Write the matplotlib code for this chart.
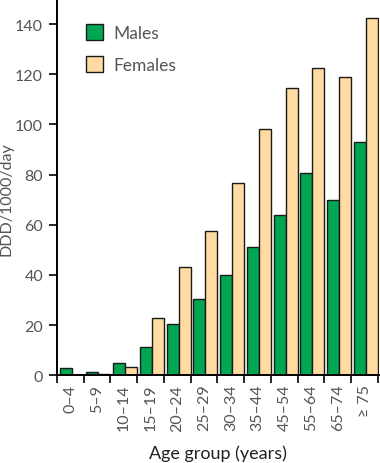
import matplotlib
matplotlib.use('Agg')
import matplotlib.pyplot as plt
import numpy as np

groups = ['0–4', '5–9', '10–14', '15–19', '20–24', '25–29', '30–34',
          '35–44', '45–54', '55–64', '65–74', '≥ 75']
males = [3.0, 1.3, 5.0, 11.3, 20.5, 30.3, 40.0, 51.0, 64.0, 80.5, 70.0, 93.0]
females = [0.0, 0.5, 3.3, 23.0, 43.3, 57.5, 76.7, 98.3, 114.5, 122.5, 119.0, 142.5]

plt.rcParams['font.family'] = ['Lato', 'DejaVu Sans']
grey = '#555555'

fig = plt.figure(figsize=(3.8, 4.64), dpi=100)
ax = fig.add_axes([0.15, 0.189, 0.848, 0.811])

x = np.arange(len(groups))
w = 0.45
ax.bar(x - 0.4 + w / 2, males, w, color='#00a651', edgecolor='#1a1a1a', linewidth=1, label='Males')
ax.bar(x + 0.05 + w / 2, females, w, color='#ffdba2', edgecolor='#1a1a1a', linewidth=1, label='Females')

ax.set_xlim(-0.5, 11.55)
ax.set_ylim(0, 150)
ax.set_yticks(range(0, 141, 20))
ax.set_xticks(np.arange(-0.5, 12, 1))
ax.set_xticklabels([])
ax.set_xticks(x, minor=True)
ax.set_xticklabels(groups, minor=True, rotation=90)
ax.tick_params(axis='x', which='minor', length=0, pad=6, labelsize=11.5, labelcolor=grey)
ax.tick_params(axis='x', which='major', length=6, width=1.2, direction='out')
ax.tick_params(axis='y', length=6, width=1.2, pad=4, labelsize=11.5, labelcolor=grey)

for s in ['top', 'right']:
    ax.spines[s].set_visible(False)
for s in ['left', 'bottom']:
    ax.spines[s].set_linewidth(1.4)

ax.set_ylabel('DDD/1000/day', fontsize=11.5, color=grey)
ax.yaxis.set_label_coords(-0.135, 0.47)
ax.set_xlabel('Age group (years)', fontsize=13, color='#222222', labelpad=10)

leg = ax.legend(loc='upper left', bbox_to_anchor=(0.04, 0.975), frameon=False,
                fontsize=12.5, handlelength=1.0, handleheight=1.0, labelspacing=0.9,
                handletextpad=0.6)
for t in leg.get_texts():
    t.set_color(grey)

fig.savefig('out.png', dpi=100)
